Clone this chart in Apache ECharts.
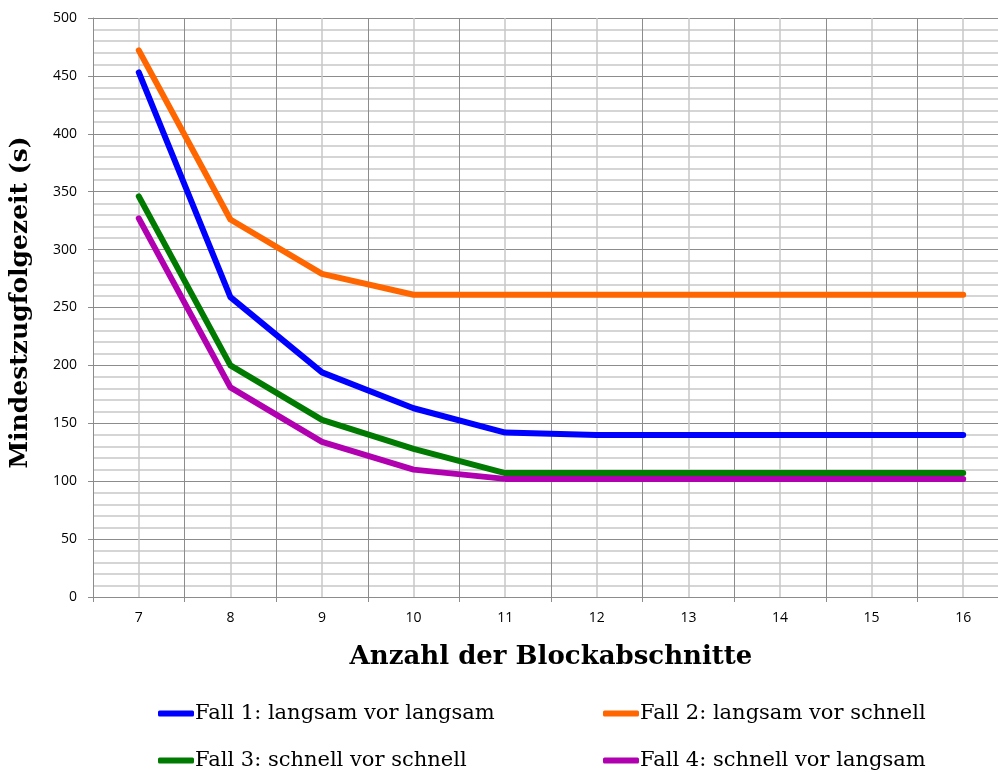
<!DOCTYPE html>
<html>
<head>
<meta charset="utf-8">
<script src="https://cdn.jsdelivr.net/npm/echarts@6/dist/echarts.min.js"></script>
<style>
  html, body { margin: 0; padding: 0; background: #ffffff; overflow: hidden; }
  #chart { width: 1009px; height: 772px; }
</style>
</head>
<body>
<div id="chart"></div>
<script>
// Number of block sections (x axis categories)
const blockCounts = ['7', '8', '9', '10', '11', '12', '13', '14', '15', '16'];

// Minimum headway time in seconds for each case
const fall1 = [453, 259, 194, 163, 142, 140, 140, 140, 140, 140];
const fall2 = [472, 326, 279, 261, 261, 261, 261, 261, 261, 261];
const fall3 = [346, 200, 153, 128, 107, 107, 107, 107, 107, 107];
const fall4 = [327, 181, 134, 110, 102, 102, 102, 102, 102, 102];

const seriesNames = [
  'Fall 1: langsam vor langsam',
  'Fall 2: langsam vor schnell',
  'Fall 3: schnell vor schnell',
  'Fall 4: schnell vor langsam'
];
const seriesColors = ['#0000ff', '#ff6600', '#007a00', '#b000b0'];
const seriesData = [fall1, fall2, fall3, fall4];

const serifFont = '"DejaVu Serif", "Liberation Serif", serif';
const sansFont = '"Open Sans", "Liberation Sans", sans-serif';

const chart = echarts.init(document.getElementById('chart'), null, { renderer: 'canvas' });

function legendAt(name, left, top) {
  return {
    data: [name],
    left: left,
    top: top,
    padding: 0,
    icon: 'roundRect',
    itemWidth: 36,
    itemHeight: 6,
    itemGap: 0,
    selectedMode: false,
    textStyle: {
      fontFamily: serifFont,
      fontSize: 21,
      color: '#000',
      padding: [0, 0, 0, -4]
    }
  };
}

const option = {
  animation: false,
  backgroundColor: '#ffffff',
  grid: { left: 88, top: 18, right: 0, bottom: 175, containLabel: false },
  legend: [
    legendAt(seriesNames[0], 158, 703),
    legendAt(seriesNames[1], 603, 703),
    legendAt(seriesNames[2], 158, 750),
    legendAt(seriesNames[3], 603, 750)
  ],
  xAxis: [
    {
      type: 'category',
      data: blockCounts,
      boundaryGap: true,
      name: 'Anzahl der Blockabschnitte',
      nameLocation: 'middle',
      nameGap: 47,
      nameTextStyle: { fontFamily: serifFont, fontWeight: 'bold', fontSize: 26, color: '#000' },
      axisLine: { lineStyle: { color: '#8c8c8c', width: 1 } },
      axisTick: { show: true, length: 5, lineStyle: { color: '#8c8c8c' } },
      axisLabel: { fontFamily: sansFont, fontSize: 14, color: '#000', margin: 14 },
      splitLine: { show: true, lineStyle: { color: '#8c8c8c', width: 1 } }
    },
    {
      // helper axis: light grid lines through each category centre
      type: 'value',
      min: 0,
      max: 10,
      interval: 1,
      show: true,
      axisLine: { show: false },
      axisTick: { show: false },
      axisLabel: { show: false },
      splitLine: { show: false },
      minorTick: { show: false, splitNumber: 2 },
      minorSplitLine: { show: true, lineStyle: { color: '#c8c8c8', width: 1.5 } }
    }
  ],
  yAxis: {
    type: 'value',
    min: 0,
    max: 500,
    interval: 50,
    name: 'Mindestzugfolgezeit (s)',
    nameLocation: 'middle',
    nameGap: 60,
    nameRotate: 90,
    nameTextStyle: { fontFamily: serifFont, fontWeight: 'bold', fontSize: 25, color: '#000', padding: [0, 0, 0, 10] },
    axisLine: { show: true, lineStyle: { color: '#8c8c8c', width: 1 } },
    axisTick: { show: true, length: 5, lineStyle: { color: '#8c8c8c' } },
    axisLabel: { fontFamily: sansFont, fontSize: 14, color: '#000', margin: 16 },
    splitLine: { show: true, lineStyle: { color: '#8c8c8c', width: 1 } },
    minorTick: { show: false, splitNumber: 5 },
    minorSplitLine: { show: true, lineStyle: { color: '#c8c8c8', width: 1.5 } }
  },
  series: seriesData.map((d, i) => ({
    name: seriesNames[i],
    type: 'line',
    xAxisIndex: 0,
    data: d,
    symbol: 'none',
    smooth: false,
    color: seriesColors[i],
    lineStyle: { color: seriesColors[i], width: 6, cap: 'round', join: 'round' },
    z: 3 + i
  }))
};

chart.setOption(option);
</script>
</body>
</html>
